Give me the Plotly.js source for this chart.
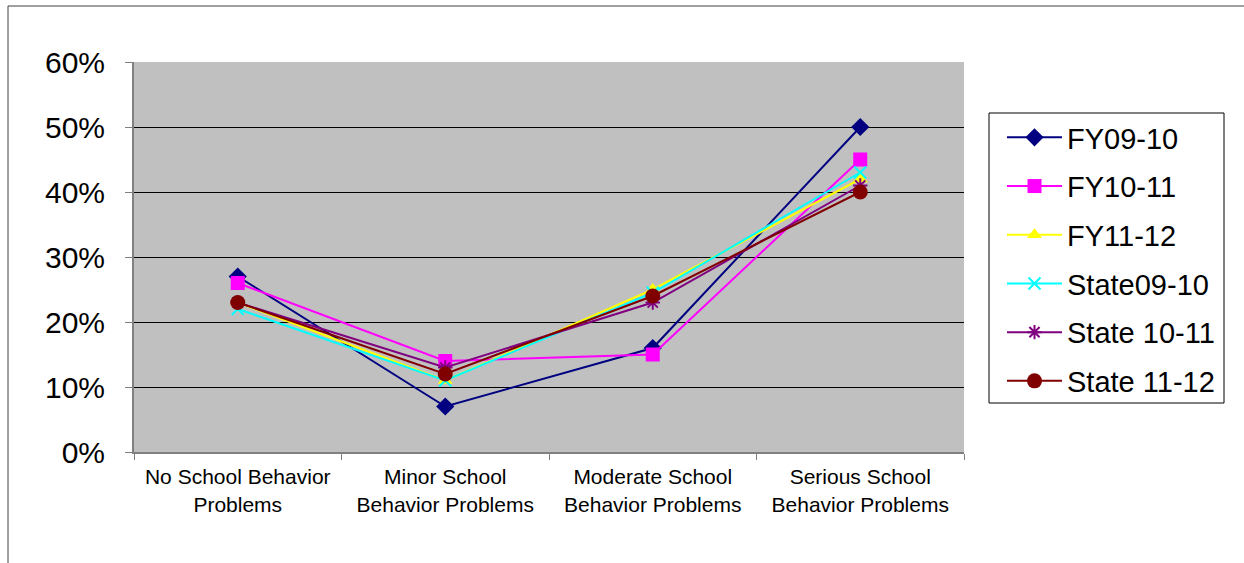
<!DOCTYPE html>
<html>
<head>
<meta charset="utf-8">
<script src="https://cdn.plot.ly/plotly-3.0.1.min.js"></script>
<style>
html,body{margin:0;padding:0;background:#fff;}
#chart{width:1244px;height:563px;}
</style>
</head>
<body>
<div id="chart"></div>
<script>
var categories = ["No School Behavior<br>Problems", "Minor School<br>Behavior Problems", "Moderate School<br>Behavior Problems", "Serious School<br>Behavior Problems"];
var seriesNames = ["FY09-10", "FY10-11", "FY11-12", "State09-10", "State 10-11", "State 11-12"];
var fy0910 = [0.27, 0.07, 0.16, 0.50];
var fy1011 = [0.26, 0.14, 0.15, 0.45];
var fy1112 = [0.23, 0.11, 0.25, 0.42];
var state0910 = [0.22, 0.11, 0.245, 0.43];
var state1011 = [0.23, 0.13, 0.23, 0.41];
var state1112 = [0.23, 0.12, 0.24, 0.40];
var yTicks = [0, 0.1, 0.2, 0.3, 0.4, 0.5, 0.6];

var values = [fy0910, fy1011, fy1112, state0910, state1011, state1112];
var colors = ["#000080", "#FF00FF", "#FFFF00", "#00FFFF", "#800080", "#800000"];
var symbols = ["diamond", "square", "triangle-up", "x-thin", "asterisk", "circle"];
var sizes = [14, 14, 13, 12, 12, 15];

var traces = values.map(function (v, i) {
  return {
    x: categories,
    y: v,
    name: seriesNames[i],
    legendgroup: "g" + i,
    type: "scatter",
    mode: "lines+markers",
    line: {color: colors[i], width: 2},
    marker: {symbol: symbols[i], size: sizes[i], color: colors[i], line: {color: colors[i], width: (i === 3 || i === 4) ? 2 : 0}}
  };
});

var L = 134, R = 964, T = 62, B = 452, W = 1244, H = 563;
var pw = R - L, ph = B - T;
function px(x) { return (x - L) / pw; }
function py(y) { return (B - y) / ph; }

var layout = {
  width: W, height: H,
  margin: {l: L, r: W - R, t: T, b: H - B, pad: 0},
  paper_bgcolor: "#ffffff",
  plot_bgcolor: "#C0C0C0",
  font: {family: "Liberation Sans, Arial, sans-serif", color: "#000"},
  showlegend: true,
  legend: {
    x: px(1002), y: py(112), xanchor: "left", yanchor: "top",
    borderwidth: 0, bgcolor: "rgba(0,0,0,0)",
    font: {size: 29, color: "#000"},
    tracegroupgap: 8, itemwidth: 55,
    traceorder: "grouped"
  },
  xaxis: {
    type: "category",
    range: [-0.5, 3.5],
    showline: true, linecolor: "#808080", linewidth: 2,
    ticks: "outside", tickson: "boundaries", ticklen: 6, tickcolor: "#808080",
    showgrid: false,
    tickfont: {size: 21},
    ticklabelstandoff: 5,
    fixedrange: true
  },
  yaxis: {
    range: [0, 0.6],
    tickvals: yTicks,
    tickformat: ".0%",
    showline: true, linecolor: "#808080", linewidth: 2,
    ticks: "outside", ticklen: 7, tickcolor: "#808080",
    gridcolor: "#000", gridwidth: 1,
    zeroline: false,
    tickfont: {size: 30},
    ticklabelstandoff: 14,
    fixedrange: true
  },
  shapes: [{
    type: "rect", xref: "paper", yref: "paper",
    x0: px(8), x1: px(1260), y0: py(580), y1: py(6),
    line: {color: "#404040", width: 1}, fillcolor: "rgba(0,0,0,0)"
  }, {
    type: "rect", xref: "paper", yref: "paper",
    x0: px(989), x1: px(1224), y0: py(403), y1: py(113),
    line: {color: "#000", width: 1}, fillcolor: "#fff", layer: "below"
  }]
};

Plotly.newPlot("chart", traces, layout, {displayModeBar: false, staticPlot: true});
</script>
</body>
</html>
